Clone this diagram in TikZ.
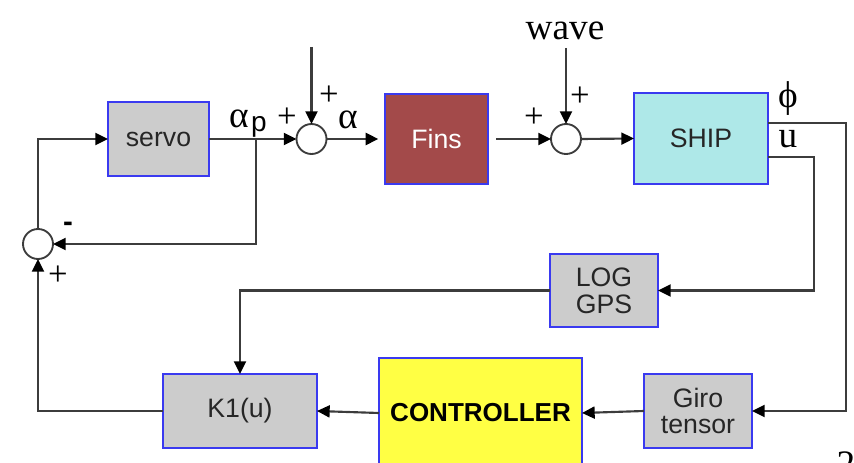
\documentclass[tikz,border=0pt]{standalone}
\usepackage{fontspec}
\setmainfont{Liberation Serif}
\setsansfont{Liberation Sans}
\newfontfamily\serifx{Liberation Serif}
\usetikzlibrary{arrows.meta,calc}
\definecolor{linec}{HTML}{3C3C3C}
\definecolor{boxb}{HTML}{3A3AF0}
\definecolor{grayf}{HTML}{CCCCCC}
\definecolor{finsf}{HTML}{A34A4A}
\definecolor{shipf}{HTML}{AEE8E8}
\definecolor{ctrlf}{HTML}{FFFF44}
\tikzset{
  blk/.style={draw=boxb, line width=1.3pt, inner sep=0pt, outer sep=0pt,
    font=\sffamily\fontsize{20}{23}\selectfont, align=center, text=black!85},
  sumc/.style={circle, draw=linec, fill=white, line width=1.4pt, inner sep=0pt,
    outer sep=0pt, minimum size=22.5pt},
  arr/.style={draw=linec, line width=1.6pt, -{Triangle[length=9.5pt,width=9pt,color=black]}},
  sig/.style={font=\serifx\fontsize{28}{30}\selectfont, inner sep=0pt},
  pm/.style={font=\serifx\fontsize{26}{28}\selectfont, inner sep=0pt}
}
\begin{document}
\begin{tikzpicture}[x=0.75pt,y=-0.75pt]
\useasboundingbox (0,0) rectangle (854,463);
% blocks
\node[blk, fill=grayf, minimum width={101*0.75pt}, minimum height={74*0.75pt}] (servo) at (158.5,139) {servo};
\node[blk, fill=finsf, text=white, minimum width={103*0.75pt}, minimum height={90*0.75pt}] (fins) at (436.5,139) {Fins};
\node[blk, fill=shipf, minimum width={134*0.75pt}, minimum height={91*0.75pt}] (ship) at (701,138.5) {SHIP};
\node[blk, fill=grayf, minimum width={108*0.75pt}, minimum height={73*0.75pt}] (log) at (604,290.5) {LOG\\[-3pt]GPS};
\node[blk, fill=grayf, minimum width={154*0.75pt}, minimum height={74*0.75pt}] (k1) at (240,411) {K1(u)};
\node[blk, fill=ctrlf, minimum width={203*0.75pt}, minimum height={110*0.75pt}, font=\sffamily\bfseries\fontsize{19.5}{22}\selectfont, text=black] (ctrl) at (480.5,413) {CONTROLLER};
\node[blk, fill=grayf, minimum width={108*0.75pt}, minimum height={74*0.75pt}] (giro) at (698,411) {Giro\\[-3pt]tensor};
% summing junctions
\node[sumc] (s1) at (38,244) {};
\node[sumc] (s2) at (311.5,139) {};
\node[sumc] (s3) at (566,139) {};
% coordinates
\coordinate (tap) at (256,139);
\coordinate (in2) at (311.5,47);
\coordinate (wv) at (566,48);
\coordinate (phi) at (768,123);
\coordinate (uo) at (768,157);
\coordinate (phic) at (846,123);
\coordinate (uc) at (814,157);
% connectors
\draw[arr] (s1.north) |- (servo.west);
\draw[arr] (servo.east) -- (s2.west);
\draw[arr] (tap) |- (s1.east);
\draw[arr] (in2) -- (s2.north);
\draw[arr, shorten >=5pt] (s2.east) -- (fins.west);
\draw[arr, shorten <=6pt] (fins.east) -- (s3.west);
\draw[arr] (wv) -- (s3.north);
\draw[arr] (s3.east) -- (ship.west);
\draw[arr] (phi) -- (phic) |- (giro.east);
\draw[arr] (uo) -- (uc) |- (log.east);
\draw[arr] (log.west) -| (k1.north);
\draw[arr] (giro.west) -- (ctrl.east);
\draw[arr] (ctrl.west) -- (k1.east);
\draw[arr] (k1.west) -| (s1.south);
% labels
\node[sig] (lap) at (239,119) {α};
\node[font=\sffamily\fontsize{21}{22}\selectfont, inner sep=0pt] (lp) at (259,127) {p};
\node[pm] (p2l) at (287,118) {+};
\node[pm] (p2t) at (329,96) {+};
\node[sig] (la) at (348,120) {α};
\node[pm] (p3l) at (534,118) {+};
\node[pm] (p3t) at (580,97) {+};
\node[sig] (lw) at (565,31) {wave};
\node[sig] (lphi) at (788,99) {ϕ};
\node[sig] (lu) at (788,139) {u};
\node[font=\sffamily\bfseries\fontsize{22}{22}\selectfont, inner sep=0pt] (m1) at (68,227) {-};
\node[pm] (p1) at (58,276) {+};
\node[sig, anchor=north] (pg) at (846,452) {2};
\end{tikzpicture}
\end{document}
